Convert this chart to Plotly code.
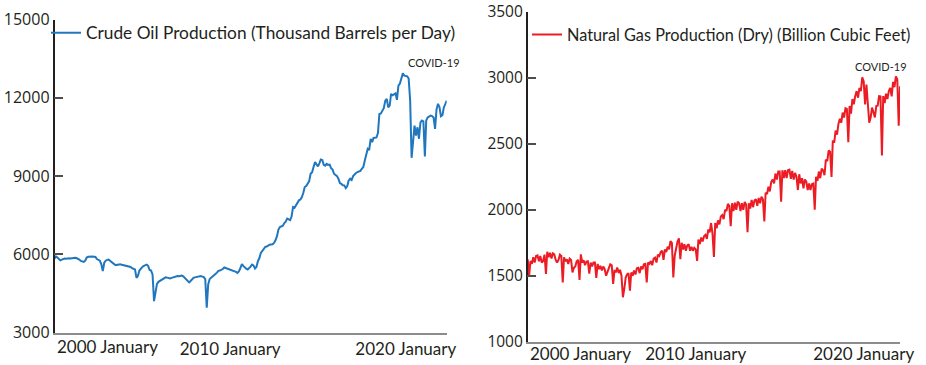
import pandas as pd
import plotly.graph_objects as go

# ---------------- data ----------------
oil_start = "2000-01-01"
crude_oil = [
    5840, 5920, 5880, 5800, 5770, 5800, 5820, 5840, 5830, 5850, 5850, 5840,   # 2000
    5860, 5880, 5870, 5860, 5840, 5800, 5750, 5720, 5710, 5760, 5880, 5910,   # 2001
    5920, 5910, 5920, 5910, 5900, 5820, 5780, 5760, 5620, 5360, 5680, 5760,   # 2002
    5790, 5800, 5760, 5700, 5660, 5620, 5590, 5610, 5630, 5620, 5600, 5590,   # 2003
    5570, 5560, 5560, 5550, 5520, 5470, 5450, 5420, 5100, 5180, 5380, 5470,   # 2004
    5520, 5560, 5600, 5610, 5560, 5400, 5380, 5230, 4210, 4560, 4870, 4950,   # 2005
    4990, 5030, 5070, 5100, 5120, 5110, 5090, 5080, 5100, 5120, 5140, 5160,   # 2006
    5170, 5160, 5180, 5190, 5160, 5110, 5060, 4990, 4930, 4980, 5050, 5100,   # 2007
    5120, 5140, 5160, 5180, 5170, 5150, 5130, 5050, 3955, 4850, 5060, 5110,   # 2008
    5170, 5200, 5250, 5300, 5370, 5380, 5400, 5440, 5500, 5480, 5460, 5440,   # 2009
    5420, 5410, 5400, 5380, 5330, 5290, 5350, 5470, 5630, 5560, 5480, 5450,   # 2010
    5420, 5460, 5530, 5610, 5580, 5460, 5520, 5740, 5860, 6060, 6150, 6250,   # 2011
    6290, 6300, 6350, 6370, 6380, 6390, 6440, 6540, 6700, 6950, 7050, 7080,   # 2012
    7100, 7200, 7250, 7370, 7330, 7310, 7450, 7815, 7790, 7880, 7960, 8070,   # 2013
    8100, 8200, 8350, 8580, 8620, 8700, 8800, 9090, 9150, 9350, 9535, 9450,   # 2014
    9370, 9500, 9640, 9620, 9435, 9400, 9470, 9430, 9440, 9300, 9250, 9090,   # 2015
    9050, 9000, 8900, 8730, 8700, 8650, 8645, 8540, 8620, 8835, 8900, 8850,   # 2016
    9000, 9090, 9120, 9150, 9180, 9200, 9280, 9350, 9600, 9800, 10045, 10000, # 2017
    10430, 10300, 10460, 10465, 10480, 10650, 11380, 11400, 11510, 11600, 11890, 11960,  # 2018
    11640, 11700, 12150, 12100, 12130, 12170, 11920, 12465, 12550, 12780, 12935, 12850,  # 2019
    12820, 12820, 12740, 11900, 9700, 10440, 10937, 10550, 10870, 10430, 11060, 11130,   # 2020
    11100, 9750, 11130, 11250, 11300, 11320, 11300, 11250, 10810, 11550, 11770, 11650,   # 2021
    11290, 11330, 11620, 11750, 11890,                                                    # 2022
]

gas_start = "2000-01-01"
natural_gas = [
    1625, 1500, 1612, 1590, 1640, 1600, 1650, 1655, 1610, 1650, 1600, 1612,   # 2000
    1660, 1513, 1682, 1640, 1675, 1630, 1670, 1662, 1620, 1600, 1620, 1660,   # 2001
    1650, 1450, 1640, 1610, 1625, 1590, 1630, 1620, 1525, 1560, 1570, 1610,   # 2002
    1620, 1468, 1662, 1600, 1617, 1580, 1607, 1610, 1517, 1600, 1570, 1600,   # 2003
    1600, 1483, 1590, 1550, 1575, 1540, 1570, 1550, 1500, 1540, 1560, 1587,   # 2004
    1580, 1438, 1537, 1530, 1562, 1520, 1545, 1500, 1337, 1400, 1487, 1510,   # 2005
    1520, 1387, 1525, 1500, 1540, 1510, 1557, 1560, 1520, 1570, 1550, 1587,   # 2006
    1590, 1450, 1600, 1590, 1612, 1580, 1630, 1637, 1600, 1660, 1650, 1680,   # 2007
    1690, 1620, 1700, 1680, 1720, 1700, 1762, 1750, 1487, 1650, 1700, 1760,   # 2008
    1783, 1625, 1750, 1700, 1740, 1690, 1730, 1740, 1690, 1720, 1690, 1712,   # 2009
    1700, 1612, 1775, 1740, 1790, 1760, 1800, 1810, 1780, 1850, 1830, 1900,   # 2010
    1820, 1642, 1900, 1860, 1920, 1890, 1950, 1960, 1930, 2000, 1990, 2045,   # 2011
    2030, 1875, 2050, 1990, 2055, 2000, 2062, 2050, 1990, 2050, 2000, 2060,   # 2012
    2040, 1830, 2050, 2010, 2075, 2020, 2070, 2080, 2030, 2090, 2050, 2100,   # 2013
    2080, 1912, 2130, 2120, 2175, 2140, 2210, 2230, 2200, 2275, 2230, 2290,   # 2014
    2290, 2062, 2300, 2240, 2300, 2240, 2300, 2305, 2235, 2295, 2230, 2280,   # 2015
    2250, 2150, 2270, 2200, 2240, 2162, 2230, 2215, 2150, 2200, 2150, 2195,   # 2016
    2200, 2000, 2250, 2220, 2290, 2240, 2312, 2300, 2262, 2380, 2370, 2450,   # 2017
    2440, 2250, 2525, 2510, 2600, 2570, 2650, 2690, 2660, 2737, 2700, 2770,   # 2018
    2765, 2512, 2787, 2730, 2840, 2800, 2862, 2900, 2850, 2925, 2900, 3005,   # 2019
    2975, 2800, 2950, 2820, 2660, 2700, 2775, 2740, 2700, 2787, 2790, 2862,   # 2020
    2860, 2412, 2862, 2810, 2880, 2840, 2900, 2925, 2860, 2970, 2930, 3012,   # 2021
    2990, 2637, 2937,                                                         # 2022
]

oil_dates = pd.date_range(oil_start, periods=len(crude_oil), freq="MS")
gas_dates = pd.date_range(gas_start, periods=len(natural_gas), freq="MS")

oil_name = "Crude Oil Production (Thousand Barrels per Day)"
gas_name = "Natural Gas Production (Dry) (Billion Cubic Feet)"
x_tick_vals = ["2010-01-01", "2020-01-01"]
x_tick_text = ["2010 January", "2020 January"]
first_label = "2000 January"
oil_y_ticks = [3000, 6000, 9000, 12000, 15000]
gas_y_ticks = [1000, 1500, 2000, 2500, 3000, 3500]
note = "COVID-19"

# ---------------- figure ----------------
FONT = "Lato"
NUMFONT = "Open Sans"
TXT = "#231F20"
W, H = 926, 365

fig = go.Figure()
fig.add_trace(go.Scatter(x=oil_dates, y=crude_oil, mode="lines", name=oil_name,
                         line=dict(color="#2077BE", width=2), xaxis="x", yaxis="y",
                         legend="legend"))
fig.add_trace(go.Scatter(x=gas_dates, y=natural_gas, mode="lines", name=gas_name,
                         line=dict(color="#EC1C24", width=2), xaxis="x2", yaxis="y2",
                         legend="legend2"))

def px_x(p):
    return p / W

def px_y(p):
    return 1 - p / H

xcommon = dict(type="date", showgrid=False, zeroline=False, showline=True,
               linecolor="#8C8C8C", linewidth=2, ticks="", tickvals=x_tick_vals,
               ticktext=x_tick_text, tickfont=dict(family=FONT, size=17, color=TXT),
               ticklabeloverflow="allow", automargin=False)
ycommon = dict(showgrid=False, zeroline=False, showline=True, linecolor=TXT,
               linewidth=1.5, ticks="inside", ticklen=9, tickwidth=1.5,
               tickcolor="#4D4D4D", tickformat="d", ticklabeloverflow="allow",
               automargin=False)

fig.update_layout(
    width=W, height=H,
    margin=dict(l=0, r=0, t=0, b=0),
    paper_bgcolor="white", plot_bgcolor="white",
    font=dict(family=FONT, color=TXT),
    xaxis=dict(xcommon, domain=[px_x(54.5), px_x(446.7)],
               range=[oil_dates[0], oil_dates[-1]], anchor="y"),
    yaxis=dict(ycommon, domain=[px_y(332.7), px_y(19.5)], range=[3000, 15000],
               tickvals=oil_y_ticks, anchor="x",
               tickfont=dict(family=NUMFONT, size=16, color=TXT)),
    xaxis2=dict(xcommon, domain=[px_x(527.7), px_x(900)],
                range=[gas_dates[0], gas_dates[-1]], anchor="y2",
                ticklabelstandoff=-4),
    yaxis2=dict(ycommon, domain=[px_y(341.7), px_y(12)], range=[1000, 3500],
                tickvals=gas_y_ticks, anchor="x2",
                tickfont=dict(family=NUMFONT, size=15.5, color=TXT)),
    legend=dict(x=px_x(46), y=px_y(33), xanchor="left", yanchor="middle",
                bgcolor="rgba(0,0,0,0)", font=dict(family=FONT, size=17.3, color=TXT),
                itemwidth=30),
    legend2=dict(x=px_x(527), y=px_y(35), xanchor="left", yanchor="middle",
                 bgcolor="rgba(0,0,0,0)", font=dict(family=FONT, size=16.3, color=TXT),
                 itemwidth=30),
    showlegend=True,
)

fig.add_annotation(x=oil_dates[0], xref="x", xanchor="left", y=px_y(346.7), yref="paper",
                   yanchor="middle", text=first_label, showarrow=False,
                   font=dict(family=FONT, size=17, color=TXT))
fig.add_annotation(x=gas_dates[0], xref="x2", xanchor="left", y=px_y(353.3), yref="paper",
                   yanchor="middle", text=first_label, showarrow=False,
                   font=dict(family=FONT, size=17, color=TXT))
fig.add_annotation(x="2021-08-01", xref="x", y=13345, yref="y", text=note,
                   showarrow=False, font=dict(family=FONT, size=11, color=TXT))
fig.add_annotation(x="2021-01-15", xref="x2", y=3089, yref="y2", text=note,
                   showarrow=False, font=dict(family=FONT, size=11, color=TXT))

fig.write_html("out.html", config={"displayModeBar": False},
               post_script="document.body.style.margin='0';")
